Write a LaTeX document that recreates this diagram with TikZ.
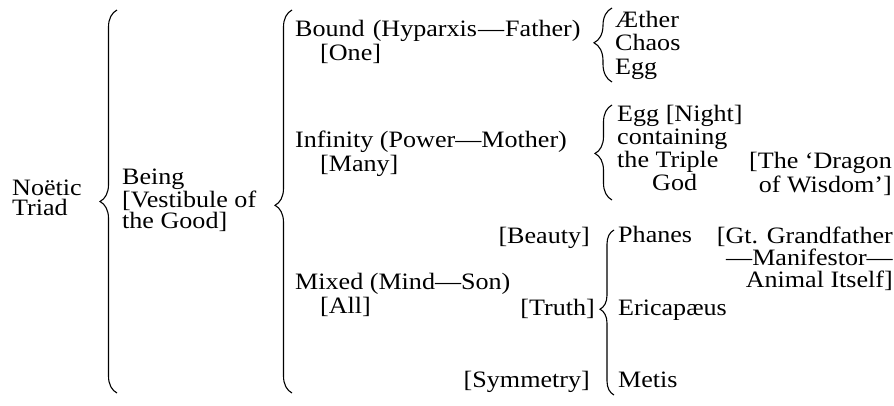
\documentclass[tikz,border=0pt]{standalone}
\usepackage{fontspec}
\setmainfont{Liberation Serif}[FakeStretch=1.11]
\usetikzlibrary{decorations.pathreplacing}

\begin{document}
\begin{tikzpicture}[x=1pt,y=-1pt,
  txt/.style={inner sep=0pt, anchor=base west, align=left, font=\fontsize{23.5}{#1}\selectfont},
  txt/.default=23.5,
  rtxt/.style={txt=#1, anchor=base east, align=right},
  brc/.style={decorate, decoration={brace, amplitude=#1}, line width=1.1pt}]
  \useasboundingbox (0,0) rectangle (894,405);

  \node[txt=20] (noetic) at (12,215) {Noëtic\\Triad};
  \node[txt=20.5] (being) at (122,228) {Being\\{[}Vestibule of\\the Good]};

  \node[txt] (bound) at (295,60) {Bound\hspace{1.5pt} (Hyparxis\hspace{1pt}—\hspace{1pt}Father)\\\hspace*{25pt}[One]};
  \node[txt] (infinity) at (295,171) {Infinity (Power—Mother)\\\hspace*{25pt}[Many]};
  \node[txt] (mixed) at (295,313) {Mixed (Mind—Son)\\\hspace*{25pt}[All]};

  \node[rtxt] (beauty) at (590,243) {[Beauty]};
  \node[rtxt] (truth) at (595,315) {[Truth]};
  \node[rtxt] (symmetry) at (590,387) {[Symmetry]};

  \node[txt] (aether) at (615,74) {Æther\\Chaos\\Egg};
  \node[txt=22.7] (egg) at (617,190) {Egg [Night]\\containing\\the Triple\\\hspace*{35pt}God};
  \node[rtxt=24] (dragon) at (892,192) {[The ‘Dragon\\of Wisdom’]};

  \node[txt] (phanes) at (618,242) {Phanes};
  \node[rtxt=22] (grandfather) at (893,287) {[Gt. Grandfather\\—Manifestor—\\Animal Itself]};
  \node[txt] (ericapaeus) at (618,315) {Ericapæus};
  \node[txt] (metis) at (618,387) {Metis};

  \coordinate (b1top) at (117,10);   \coordinate (b1bot) at (117,393);
  \coordinate (b2top) at (292,10);   \coordinate (b2bot) at (292,393);
  \coordinate (b3top) at (612,8);    \coordinate (b3bot) at (612,82);
  \coordinate (b4top) at (612,105);  \coordinate (b4bot) at (612,200);
  \coordinate (b5top) at (614,230);  \coordinate (b5bot) at (614,395);

  \draw[brc=17, decoration={aspect=0.5}] (b1bot) -- (b1top);
  \draw[brc=17, decoration={aspect=0.49}] (b2bot) -- (b2top);
  \draw[brc=18, decoration={aspect=0.53}] (b3bot) -- (b3top);
  \draw[brc=17, decoration={aspect=0.49}] (b4bot) -- (b4top);
  \draw[brc=14, decoration={aspect=0.52}] (b5bot) -- (b5top);
\end{tikzpicture}
\end{document}
